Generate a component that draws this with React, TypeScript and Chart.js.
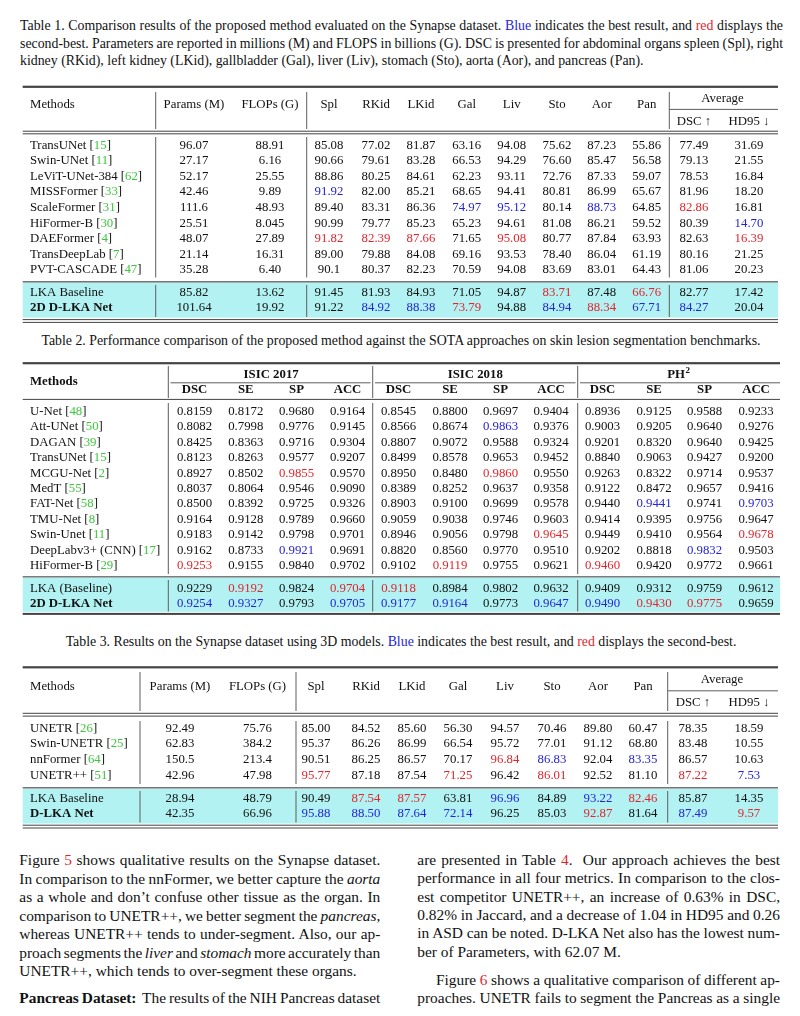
import React, { useEffect, useLayoutEffect, useRef } from "react";
import { Chart, registerables } from "chart.js";
Chart.register(...registerables);

const PAGE_W = 800;
const PAGE_H = 1016;
const SERIF = '"Liberation Serif", "Times New Roman", Times, serif';
const INK = "#111111";
const BLUE = "#2424d8";
const RED = "#e2252d";
const GREEN = "#3cc83c";
const CYAN = "#b2f2f2";
const RULE = "#444444";
const VRULE = "#5e5e5e";
const FS = 12.8;

// ---------------- Table 1 data ----------------
const t1Methods = ["TransUNet", "Swin-UNet", "LeViT-UNet-384", "MISSFormer", "ScaleFormer", "HiFormer-B", "DAEFormer", "TransDeepLab", "PVT-CASCADE", "LKA Baseline", "2D D-LKA Net"];
const t1Refs = ["15", "11", "62", "33", "31", "30", "4", "7", "47", "", ""];
const t1BoldRows = [10];
const t1Headers = ["Params (M)", "FLOPs (G)", "Spl", "RKid", "LKid", "Gal", "Liv", "Sto", "Aor", "Pan", "DSC ↑", "HD95 ↓"];
const t1Params = ["96.07", "27.17", "52.17", "42.46", "111.6", "25.51", "48.07", "21.14", "35.28", "85.82", "101.64"];
const t1Flops = ["88.91", "6.16", "25.55", "9.89", "48.93", "8.045", "27.89", "16.31", "6.40", "13.62", "19.92"];
const t1Spl = ["85.08", "90.66", "88.86", "91.92", "89.40", "90.99", "91.82", "89.00", "90.1", "91.45", "91.22"];
const t1RKid = ["77.02", "79.61", "80.25", "82.00", "83.31", "79.77", "82.39", "79.88", "80.37", "81.93", "84.92"];
const t1LKid = ["81.87", "83.28", "84.61", "85.21", "86.36", "85.23", "87.66", "84.08", "82.23", "84.93", "88.38"];
const t1Gal = ["63.16", "66.53", "62.23", "68.65", "74.97", "65.23", "71.65", "69.16", "70.59", "71.05", "73.79"];
const t1Liv = ["94.08", "94.29", "93.11", "94.41", "95.12", "94.61", "95.08", "93.53", "94.08", "94.87", "94.88"];
const t1Sto = ["75.62", "76.60", "72.76", "80.81", "80.14", "81.08", "80.77", "78.40", "83.69", "83.71", "84.94"];
const t1Aor = ["87.23", "85.47", "87.33", "86.99", "88.73", "86.21", "87.84", "86.04", "83.01", "87.48", "88.34"];
const t1Pan = ["55.86", "56.58", "59.07", "65.67", "64.85", "59.52", "63.93", "61.19", "64.43", "66.76", "67.71"];
const t1Dsc = ["77.49", "79.13", "78.53", "81.96", "82.86", "80.39", "82.63", "80.16", "81.06", "82.77", "84.27"];
const t1Hd95 = ["31.69", "21.55", "16.84", "18.20", "16.81", "14.70", "16.39", "21.25", "20.23", "17.42", "20.04"];
// [row, column] of best (blue) and second-best (red) cells
const t1Best: [number, number][] = [[3, 2], [10, 3], [10, 4], [4, 5], [4, 6], [10, 7], [4, 8], [10, 9], [10, 10], [5, 11]];
const t1Second: [number, number][] = [[6, 2], [6, 3], [6, 4], [10, 5], [6, 6], [9, 7], [10, 8], [9, 9], [4, 10], [6, 11]];

// ---------------- Table 2 data ----------------
const t2Methods = ["U-Net", "Att-UNet", "DAGAN", "TransUNet", "MCGU-Net", "MedT", "FAT-Net", "TMU-Net", "Swin-Unet", "DeepLabv3+ (CNN)", "HiFormer-B", "LKA (Baseline)", "2D D-LKA Net"];
const t2Refs = ["48", "50", "39", "15", "2", "55", "58", "8", "11", "17", "29", "", ""];
const t2BoldRows = [12];
const t2Groups = ["ISIC 2017", "ISIC 2018", "PH"];
const t2Metrics = ["DSC", "SE", "SP", "ACC"];
const t2I17Dsc = ["0.8159", "0.8082", "0.8425", "0.8123", "0.8927", "0.8037", "0.8500", "0.9164", "0.9183", "0.9162", "0.9253", "0.9229", "0.9254"];
const t2I17Se = ["0.8172", "0.7998", "0.8363", "0.8263", "0.8502", "0.8064", "0.8392", "0.9128", "0.9142", "0.8733", "0.9155", "0.9192", "0.9327"];
const t2I17Sp = ["0.9680", "0.9776", "0.9716", "0.9577", "0.9855", "0.9546", "0.9725", "0.9789", "0.9798", "0.9921", "0.9840", "0.9824", "0.9793"];
const t2I17Acc = ["0.9164", "0.9145", "0.9304", "0.9207", "0.9570", "0.9090", "0.9326", "0.9660", "0.9701", "0.9691", "0.9702", "0.9704", "0.9705"];
const t2I18Dsc = ["0.8545", "0.8566", "0.8807", "0.8499", "0.8950", "0.8389", "0.8903", "0.9059", "0.8946", "0.8820", "0.9102", "0.9118", "0.9177"];
const t2I18Se = ["0.8800", "0.8674", "0.9072", "0.8578", "0.8480", "0.8252", "0.9100", "0.9038", "0.9056", "0.8560", "0.9119", "0.8984", "0.9164"];
const t2I18Sp = ["0.9697", "0.9863", "0.9588", "0.9653", "0.9860", "0.9637", "0.9699", "0.9746", "0.9798", "0.9770", "0.9755", "0.9802", "0.9773"];
const t2I18Acc = ["0.9404", "0.9376", "0.9324", "0.9452", "0.9550", "0.9358", "0.9578", "0.9603", "0.9645", "0.9510", "0.9621", "0.9632", "0.9647"];
const t2PhDsc = ["0.8936", "0.9003", "0.9201", "0.8840", "0.9263", "0.9122", "0.9440", "0.9414", "0.9449", "0.9202", "0.9460", "0.9409", "0.9490"];
const t2PhSe = ["0.9125", "0.9205", "0.8320", "0.9063", "0.8322", "0.8472", "0.9441", "0.9395", "0.9410", "0.8818", "0.9420", "0.9312", "0.9430"];
const t2PhSp = ["0.9588", "0.9640", "0.9640", "0.9427", "0.9714", "0.9657", "0.9741", "0.9756", "0.9564", "0.9832", "0.9772", "0.9759", "0.9775"];
const t2PhAcc = ["0.9233", "0.9276", "0.9425", "0.9200", "0.9537", "0.9416", "0.9703", "0.9647", "0.9678", "0.9503", "0.9661", "0.9612", "0.9659"];
const t2Best: [number, number][] = [[12, 0], [12, 1], [9, 2], [12, 3], [12, 4], [12, 5], [1, 6], [12, 7], [12, 8], [6, 9], [9, 10], [6, 11]];
const t2Second: [number, number][] = [[10, 0], [11, 1], [4, 2], [11, 3], [11, 4], [10, 5], [4, 6], [8, 7], [10, 8], [12, 9], [12, 10], [8, 11]];

// ---------------- Table 3 data ----------------
const t3Methods = ["UNETR", "Swin-UNETR", "nnFormer", "UNETR++", "LKA Baseline", "D-LKA Net"];
const t3Refs = ["26", "25", "64", "51", "", ""];
const t3BoldRows = [5];
const t3Headers = ["Params (M)", "FLOPs (G)", "Spl", "RKid", "LKid", "Gal", "Liv", "Sto", "Aor", "Pan", "DSC ↑", "HD95 ↓"];
const t3Params = ["92.49", "62.83", "150.5", "42.96", "28.94", "42.35"];
const t3Flops = ["75.76", "384.2", "213.4", "47.98", "48.79", "66.96"];
const t3Spl = ["85.00", "95.37", "90.51", "95.77", "90.49", "95.88"];
const t3RKid = ["84.52", "86.26", "86.25", "87.18", "87.54", "88.50"];
const t3LKid = ["85.60", "86.99", "86.57", "87.54", "87.57", "87.64"];
const t3Gal = ["56.30", "66.54", "70.17", "71.25", "63.81", "72.14"];
const t3Liv = ["94.57", "95.72", "96.84", "96.42", "96.96", "96.25"];
const t3Sto = ["70.46", "77.01", "86.83", "86.01", "84.89", "85.03"];
const t3Aor = ["89.80", "91.12", "92.04", "92.52", "93.22", "92.87"];
const t3Pan = ["60.47", "68.80", "83.35", "81.10", "82.46", "81.64"];
const t3Dsc = ["78.35", "83.48", "86.57", "87.22", "85.87", "87.49"];
const t3Hd95 = ["18.59", "10.55", "10.63", "7.53", "14.35", "9.57"];
const t3Best: [number, number][] = [[5, 2], [5, 3], [5, 4], [5, 5], [4, 6], [2, 7], [4, 8], [2, 9], [5, 10], [3, 11]];
const t3Second: [number, number][] = [[3, 2], [4, 3], [4, 4], [3, 5], [2, 6], [3, 7], [5, 8], [4, 9], [3, 10], [5, 11]];

// ---------------- Layout (page pixel coordinates) ----------------
const L1 = {
  top: 78, height: 252, left: 22.7, right: 778, methodX: 30,
  colX: [194, 270, 329, 376, 421, 466.7, 511.7, 557, 601.7, 646.7, 694, 749],
  firstRowY: 145.3, rowH: 15.6, groupSize: 9, group2Y: 292.3, row2H: 15.8,
};
const L2 = {
  top: 356, height: 264, left: 22.7, right: 780, methodX: 30,
  colX: [194.5, 245.8, 296.5, 347.5, 398.5, 450, 500.5, 551, 602.5, 654, 704.5, 756],
  firstRowY: 411.7, rowH: 15.4, groupSize: 11, group2Y: 588.3, row2H: 15.1,
};
const L3 = {
  top: 660, height: 172, left: 22.7, right: 778, methodX: 30,
  colX: [180, 257.5, 316, 366, 412, 458, 505, 552, 598, 643, 693, 749],
  firstRowY: 728.3, rowH: 15.8, groupSize: 4, group2Y: 798.3, row2H: 15.7,
};

type Lay = typeof L1;
type H = { ctx: CanvasRenderingContext2D; X: (v: number) => number; Y: (v: number) => number };

const font = (bold: boolean, size = FS) => `${bold ? "bold " : ""}${size}px ${SERIF}`;

function rowY(l: Lay, i: number) {
  return i < l.groupSize ? l.firstRowY + i * l.rowH : l.group2Y + (i - l.groupSize) * l.row2H;
}

function hl(h: H, x1: number, x2: number, y: number, w: number, color = RULE) {
  const { ctx, X, Y } = h;
  ctx.fillStyle = color;
  ctx.fillRect(X(x1), Y(y) - w / 2, X(x2) - X(x1), w);
}
function vl(h: H, x: number, y1: number, y2: number, w = 1, color = VRULE) {
  const { ctx, X, Y } = h;
  ctx.fillStyle = color;
  ctx.fillRect(X(x) - w / 2, Y(y1), w, Y(y2) - Y(y1));
}
function tx(h: H, s: string, x: number, y: number, align: CanvasTextAlign = "center", bold = false, color = INK, size = FS) {
  const { ctx, X, Y } = h;
  ctx.font = font(bold, size);
  ctx.fillStyle = color;
  ctx.textAlign = align;
  ctx.textBaseline = "middle";
  ctx.fillText(s, X(x), Y(y));
}
function band(h: H, x1: number, x2: number, y1: number, y2: number) {
  const { ctx, X, Y } = h;
  ctx.fillStyle = CYAN;
  ctx.fillRect(X(x1), Y(y1), X(x2) - X(x1), Y(y2) - Y(y1));
}

function buildDatasets(l: Lay, methods: string[], refs: string[], boldRows: number[], cols: string[][], best: [number, number][], second: [number, number][]) {
  const colorOf = (r: number, c: number) =>
    best.some(([a, b]) => a === r && b === c) ? BLUE : second.some(([a, b]) => a === r && b === c) ? RED : INK;
  const sets: any[] = [
    {
      label: "Methods",
      data: methods.map((_, i) => ({ x: l.methodX, y: rowY(l, i) })),
      cells: methods.map((m, i) => ({ text: m, ref: refs[i], bold: boldRows.includes(i) })),
      align: "left",
      pointRadius: 0,
      showLine: false,
    },
  ];
  cols.forEach((vals, c) => {
    sets.push({
      label: `col${c}`,
      data: vals.map((_, i) => ({ x: l.colX[c], y: rowY(l, i) })),
      cells: vals.map((v, i) => ({ text: v, color: colorOf(i, c) })),
      align: "center",
      pointRadius: 0,
      showLine: false,
    });
  });
  return sets;
}

function tablePlugin(decor: (h: H) => void) {
  return {
    id: "tableDecor",
    beforeDatasetsDraw(chart: any) {
      const ctx = chart.ctx as CanvasRenderingContext2D;
      const h: H = { ctx, X: (v) => chart.scales.x.getPixelForValue(v), Y: (v) => chart.scales.y.getPixelForValue(v) };
      ctx.save();
      decor(h);
      ctx.restore();
    },
    afterDatasetsDraw(chart: any) {
      const ctx = chart.ctx as CanvasRenderingContext2D;
      ctx.save();
      ctx.textBaseline = "middle";
      chart.data.datasets.forEach((ds: any, i: number) => {
        const meta = chart.getDatasetMeta(i);
        meta.data.forEach((el: any, j: number) => {
          const cell = ds.cells[j];
          if (ds.align === "left") {
            ctx.textAlign = "left";
            ctx.font = font(cell.bold);
            ctx.fillStyle = INK;
            let x = el.x;
            const head = cell.ref ? `${cell.text} [` : cell.text;
            ctx.fillText(head, x, el.y);
            if (cell.ref) {
              x += ctx.measureText(head).width;
              ctx.fillStyle = GREEN;
              ctx.fillText(cell.ref, x, el.y);
              x += ctx.measureText(cell.ref).width;
              ctx.fillStyle = INK;
              ctx.fillText("]", x, el.y);
            }
          } else {
            ctx.textAlign = "center";
            ctx.font = font(false);
            ctx.fillStyle = cell.color;
            ctx.fillText(cell.text, el.x, el.y);
          }
        });
      });
      ctx.restore();
    },
  };
}

function TableChart({ layout, datasets, decor }: { layout: Lay; datasets: any[]; decor: (h: H) => void }) {
  const ref = useRef<HTMLCanvasElement>(null);
  useEffect(() => {
    const canvas = ref.current;
    if (!canvas) return;
    const chart = new Chart(canvas, {
      type: "scatter",
      data: { datasets },
      options: {
        responsive: false,
        maintainAspectRatio: false,
        animation: false,
        devicePixelRatio: 1,
        events: [],
        layout: { padding: 0 },
        plugins: { legend: { display: false }, tooltip: { enabled: false }, title: { display: false } },
        scales: {
          x: { type: "linear", display: false, min: 0, max: PAGE_W },
          y: { type: "linear", display: false, min: layout.top, max: layout.top + layout.height, reverse: true },
        },
      } as any,
      plugins: [tablePlugin(decor)],
    });
    return () => chart.destroy();
  }, []);
  return (
    <canvas
      ref={ref}
      width={PAGE_W}
      height={layout.height}
      style={{ position: "absolute", left: 0, top: layout.top, width: PAGE_W, height: layout.height }}
    />
  );
}

// ---------------- table decorations ----------------
function decorSynapse(l: Lay, headers: string[], g: {
  topRule: number; headY: number; avgY: number; avgLineY: number; subY: number; dbl: [number, number];
  vx: number[]; vSeg: [number, number][]; sep: number; cyan: [number, number]; bottom: [number, number];
}) {
  return (h: H) => {
    band(h, l.left, l.right, g.cyan[0], g.cyan[1]);
    hl(h, l.left, l.right, g.topRule, 2.2);
    hl(h, l.left, l.right, g.dbl[0], 1);
    hl(h, l.left, l.right, g.dbl[1], 1);
    hl(h, l.left, l.right, g.sep, 1.4, "#666");
    hl(h, l.left, l.right, g.bottom[0], 1);
    hl(h, l.left, l.right, g.bottom[1], 1);
    hl(h, l.colX[10] - 25, l.right, g.avgLineY, 1, "#5e5e5e");
    g.vx.forEach((x) => g.vSeg.forEach(([a, b]) => vl(h, x, a, b)));
    tx(h, "Methods", l.methodX, g.headY, "left");
    headers.slice(0, 10).forEach((s, i) => tx(h, s, l.colX[i], g.headY));
    tx(h, "Average", (l.colX[10] + l.colX[11]) / 2 + 1, g.avgY);
    tx(h, headers[10], l.colX[10], g.subY);
    tx(h, headers[11], l.colX[11], g.subY);
  };
}

function decorSkin(l: Lay) {
  return (h: H) => {
    band(h, l.left, l.right, 577.4, 611.8);
    hl(h, l.left, l.right, 363.2, 2.2);
    hl(h, l.left, l.right, 399.4, 1);
    hl(h, l.left, l.right, 576.8, 1.3, "#666");
    hl(h, l.left, l.right, 613.9, 2);
    const vx = [168.3, 372.7, 577.7];
    vx.forEach((x) => [[366, 398], [403, 574], [580, 611.5]].forEach(([a, b]) => vl(h, x, a, b)));
    const spans: [number, number][] = [[170.5, 370.5], [375, 575.5], [580, 780]];
    spans.forEach(([a, b]) => hl(h, a, b, 382.8, 1, "#5e5e5e"));
    tx(h, "Methods", l.methodX, 381.7, "left", true);
    t2Groups.forEach((gname, gi) => {
      const cx = (l.colX[gi * 4 + 1] + l.colX[gi * 4 + 2]) / 2;
      if (gi < 2) tx(h, gname, cx, 374.3, "center", true);
      else {
        const { ctx, X, Y } = h;
        ctx.font = font(true);
        const w1 = ctx.measureText(gname).width;
        ctx.font = font(true, FS * 0.7);
        const w2 = ctx.measureText("2").width;
        const x0 = X(cx - 1) - (w1 + w2) / 2;
        ctx.fillStyle = INK;
        ctx.textAlign = "left";
        ctx.textBaseline = "middle";
        ctx.font = font(true);
        ctx.fillText(gname, x0, Y(374.3));
        ctx.font = font(true, FS * 0.7);
        ctx.fillText("2", x0 + w1 + 0.5, Y(370.3));
      }
      t2Metrics.forEach((m, mi) => tx(h, m, l.colX[gi * 4 + mi], 389.5, "center", true));
    });
  };
}

// ---------------- HTML text lines ----------------
function Line({ x, y, w, size, lh, mode = "justify", children }: { x: number; y: number; w: number; size: number; lh: number; mode?: "justify" | "left" | "center"; children: any }) {
  const ref = useRef<HTMLSpanElement>(null);
  useLayoutEffect(() => {
    const s = ref.current;
    if (!s || mode !== "justify") return;
    s.style.wordSpacing = "0px";
    const natural = s.getBoundingClientRect().width;
    const n = (s.textContent || "").split(" ").length - 1;
    if (n > 0) s.style.wordSpacing = `${(w - natural) / n}px`;
  }, []);
  return (
    <div
      style={{
        position: "absolute", left: x, top: y - lh / 2, width: w, height: lh, lineHeight: `${lh}px`,
        fontSize: size, whiteSpace: "pre", textAlign: mode === "center" ? "center" : "left",
      }}
    >
      <span ref={ref}>{children}</span>
    </div>
  );
}

const B = ({ children }: any) => <span style={{ color: BLUE }}>{children}</span>;
const R = ({ children }: any) => <span style={{ color: RED }}>{children}</span>;

const CAP = 13.85;
const CAP_LH = 17.3;
const BODY = 15.4;
const BODY_LH = 18.4;

export default function App() {
  const t1 = buildDatasets(L1, t1Methods, t1Refs, t1BoldRows,
    [t1Params, t1Flops, t1Spl, t1RKid, t1LKid, t1Gal, t1Liv, t1Sto, t1Aor, t1Pan, t1Dsc, t1Hd95], t1Best, t1Second);
  const t2 = buildDatasets(L2, t2Methods, t2Refs, t2BoldRows,
    [t2I17Dsc, t2I17Se, t2I17Sp, t2I17Acc, t2I18Dsc, t2I18Se, t2I18Sp, t2I18Acc, t2PhDsc, t2PhSe, t2PhSp, t2PhAcc], t2Best, t2Second);
  const t3 = buildDatasets(L3, t3Methods, t3Refs, t3BoldRows,
    [t3Params, t3Flops, t3Spl, t3RKid, t3LKid, t3Gal, t3Liv, t3Sto, t3Aor, t3Pan, t3Dsc, t3Hd95], t3Best, t3Second);

  const d1 = decorSynapse(L1, t1Headers, {
    topRule: 86.8, headY: 105, avgY: 98.3, avgLineY: 109.4, subY: 121.7, dbl: [131.2, 133.8],
    vx: [155.7, 306.7, 669.3], vSeg: [[92, 129], [137, 277.5], [285, 317]], sep: 281.8, cyan: [282.6, 317.6], bottom: [319.6, 322.4],
  });
  const d3 = decorSynapse(L3, t3Headers, {
    topRule: 667.3, headY: 686.7, avgY: 680, avgLineY: 690.8, subY: 702.7, dbl: [713.3, 716.1],
    vx: [140, 296, 667.7], vSeg: [[672, 711], [721, 784], [791, 822.5]], sep: 787.8, cyan: [789, 823.5], bottom: [825.2, 828],
  });
  const d2 = decorSkin(L2);

  const lx = 19.3, lw = 361, rx = 417.3, rw = 362.7;
  const ly = (i: number) => 860.5 + i * 18.5;
  const ry = (i: number) => 860 + i * 18.35;

  return (
    <div style={{ position: "absolute", left: 0, top: 0, width: PAGE_W, height: PAGE_H, background: "#fff", overflow: "hidden", fontFamily: SERIF, color: INK }}>
      <Line x={20} y={26} w={763} size={CAP} lh={CAP_LH}>
        Table 1. Comparison results of the proposed method evaluated on the Synapse dataset. <B>Blue</B> indicates the best result, and <R>red</R> displays the
      </Line>
      <Line x={20} y={43.3} w={763} size={CAP} lh={CAP_LH}>
        second-best. Parameters are reported in millions (M) and FLOPS in billions (G). DSC is presented for abdominal organs spleen (Spl), right
      </Line>
      <Line x={20} y={60.7} w={763} size={CAP} lh={CAP_LH} mode="left">
        kidney (RKid), left kidney (LKid), gallbladder (Gal), liver (Liv), stomach (Sto), aorta (Aor), and pancreas (Pan).
      </Line>

      <TableChart layout={L1} datasets={t1} decor={d1} />

      <Line x={0} y={340.5} w={802} size={CAP} lh={CAP_LH} mode="center">
        Table 2. Performance comparison of the proposed method against the SOTA approaches on skin lesion segmentation benchmarks.
      </Line>

      <TableChart layout={L2} datasets={t2} decor={d2} />

      <Line x={0} y={641.2} w={802} size={CAP} lh={CAP_LH} mode="center">
        Table 3. Results on the Synapse dataset using 3D models. <B>Blue</B> indicates the best result, and <R>red</R> displays the second-best.
      </Line>

      <TableChart layout={L3} datasets={t3} decor={d3} />

      <Line x={lx} y={ly(0)} w={lw} size={BODY} lh={BODY_LH}>Figure <R>5</R> shows qualitative results on the Synapse dataset.</Line>
      <Line x={lx} y={ly(1)} w={lw} size={BODY} lh={BODY_LH}>In comparison to the nnFormer, we better capture the <i>aorta</i></Line>
      <Line x={lx} y={ly(2)} w={lw} size={BODY} lh={BODY_LH}>as a whole and don’t confuse other tissue as the organ. In</Line>
      <Line x={lx} y={ly(3)} w={lw} size={BODY} lh={BODY_LH}>comparison to UNETR++, we better segment the <i>pancreas</i>,</Line>
      <Line x={lx} y={ly(4)} w={lw} size={BODY} lh={BODY_LH}>whereas UNETR++ tends to under-segment. Also, our ap-</Line>
      <Line x={lx} y={ly(5)} w={lw} size={BODY} lh={BODY_LH}>proach segments the <i>liver</i> and <i>stomach</i> more accurately than</Line>
      <Line x={lx} y={ly(6)} w={lw} size={BODY} lh={BODY_LH} mode="left">UNETR++, which tends to over-segment these organs.</Line>
      <Line x={lx} y={998.3} w={lw} size={BODY} lh={BODY_LH}><b>Pancreas Dataset:</b>  The results of the NIH Pancreas dataset</Line>

      <Line x={rx} y={ry(0)} w={rw} size={BODY} lh={BODY_LH}>are presented in Table <R>4</R>.  Our approach achieves the best</Line>
      <Line x={rx} y={ry(1)} w={rw} size={BODY} lh={BODY_LH}>performance in all four metrics. In comparison to the clos-</Line>
      <Line x={rx} y={ry(2)} w={rw} size={BODY} lh={BODY_LH}>est competitor UNETR++, an increase of 0.63% in DSC,</Line>
      <Line x={rx} y={ry(3)} w={rw} size={BODY} lh={BODY_LH}>0.82% in Jaccard, and a decrease of 1.04 in HD95 and 0.26</Line>
      <Line x={rx} y={ry(4)} w={rw} size={BODY} lh={BODY_LH}>in ASD can be noted. D-LKA Net also has the lowest num-</Line>
      <Line x={rx} y={ry(5)} w={rw} size={BODY} lh={BODY_LH} mode="left">ber of Parameters, with 62.07 M.</Line>
      <Line x={436} y={980} w={780 - 436} size={BODY} lh={BODY_LH}>Figure <R>6</R> shows a qualitative comparison of different ap-</Line>
      <Line x={rx} y={998.3} w={rw} size={BODY} lh={BODY_LH}>proaches. UNETR fails to segment the Pancreas as a single</Line>
    </div>
  );
}
